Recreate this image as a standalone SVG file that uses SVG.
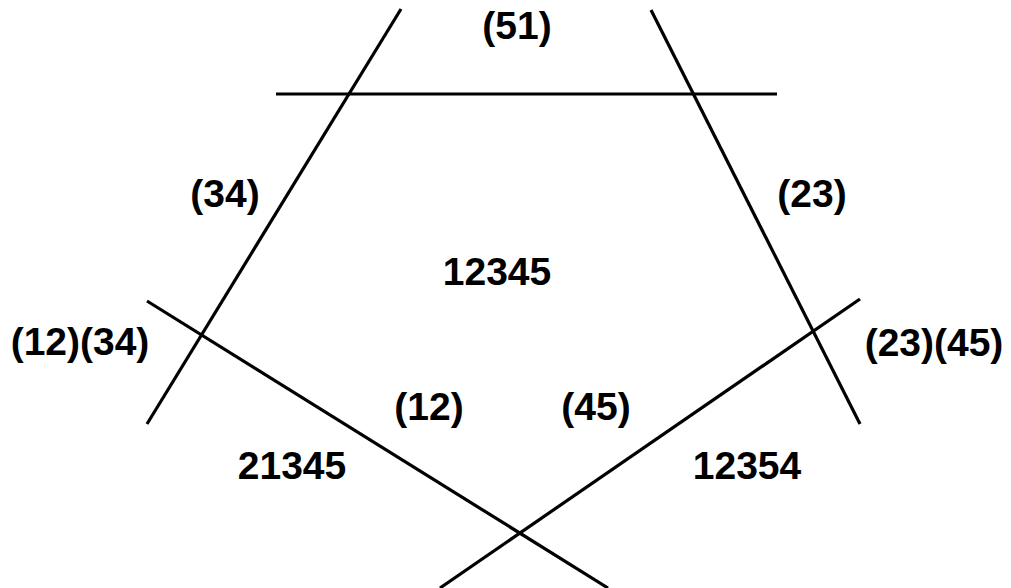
<svg xmlns="http://www.w3.org/2000/svg" width="1011" height="588" viewBox="0 0 1011 588">
<style>
.ln{stroke:#000;stroke-width:3.2;fill:none;stroke-linecap:butt}
.t{font-family:"Liberation Sans",Arial,sans-serif;font-weight:bold;font-size:39px;fill:#000;text-anchor:middle}
</style>
<rect width="1011" height="588" fill="#fff"/>
<g id="connectors">
<line class="ln" x1="401" y1="9" x2="147" y2="424"/>
<line class="ln" x1="651" y1="10" x2="860" y2="424"/>
<line class="ln" x1="276" y1="94" x2="777" y2="94"/>
<line class="ln" x1="147" y1="301" x2="608" y2="588"/>
<line class="ln" x1="860" y1="299" x2="440" y2="588"/>
</g>
<g id="n51"><text class="t" x="517" y="39">(51)</text></g>
<g id="n34"><text class="t" x="225" y="207">(34)</text></g>
<g id="n23"><text class="t" x="812" y="207">(23)</text></g>
<g id="n12345"><text class="t" x="497" y="285">12345</text></g>
<g id="n1234"><text class="t" x="80" y="355">(12)(34)</text></g>
<g id="n2345"><text class="t" x="934" y="356">(23)(45)</text></g>
<g id="n12"><text class="t" x="429" y="420">(12)</text></g>
<g id="n45"><text class="t" x="596" y="420">(45)</text></g>
<g id="n21345"><text class="t" x="292" y="479">21345</text></g>
<g id="n12354"><text class="t" x="747" y="479">12354</text></g>
</svg>
